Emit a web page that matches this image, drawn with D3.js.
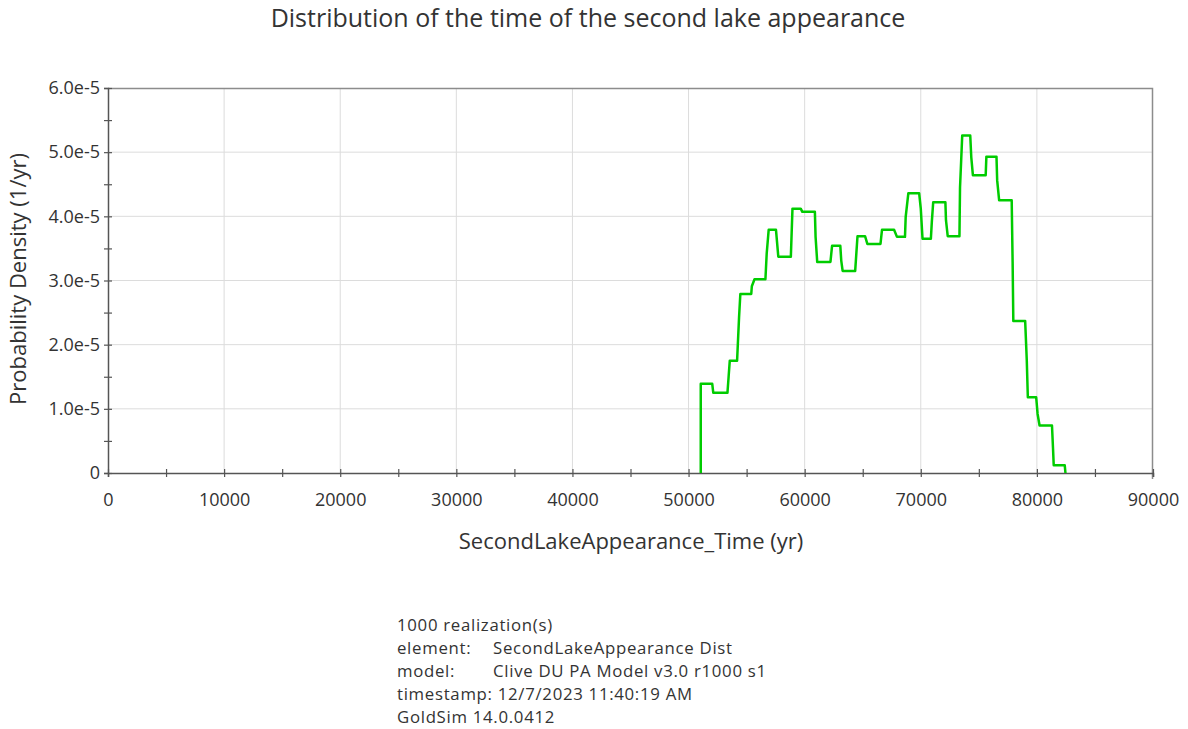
<!DOCTYPE html>
<html>
<head>
<meta charset="utf-8">
<script src="https://cdn.jsdelivr.net/npm/d3@7"></script>
<style>
  body { margin: 0; background: #fff; }
  text { font-family: "Open Sans", "Noto Sans", sans-serif; }
</style>
</head>
<body>
<div id="chart"></div>
<script>
// step points of the density curve (time in yr, density in 1/yr)
var timeYr = [51050, 51050, 52040, 52130, 53350, 53450, 53550, 54180, 54350, 54460,
    55400, 55450, 55680, 56620, 56730, 56900, 57530, 57610, 57730, 58810,
    58950, 59660, 59800, 60880, 60940, 61080, 62220, 62360, 63070, 63150,
    63270, 64350, 64450, 64550, 65200, 65400, 66530, 66660, 67700, 67950,
    68640, 68700, 68930, 69860, 70000, 70150, 70870, 70950, 71070, 72120,
    72170, 72320, 73330, 73380, 73570, 74260, 74350, 74490, 75590, 75650,
    76520, 76580, 76750, 77830, 77910, 77970, 78990, 79130, 79220, 79940,
    80060, 80230, 81300, 81390, 81450, 82400, 82460];
var density = [0, 1.39e-5, 1.39e-5, 1.25e-5, 1.25e-5, 1.50e-5, 1.75e-5, 1.75e-5, 2.43e-5, 2.79e-5,
    2.79e-5, 2.91e-5, 3.02e-5, 3.02e-5, 3.42e-5, 3.79e-5, 3.79e-5, 3.62e-5, 3.37e-5, 3.37e-5,
    4.12e-5, 4.12e-5, 4.07e-5, 4.07e-5, 3.68e-5, 3.29e-5, 3.29e-5, 3.54e-5, 3.54e-5, 3.31e-5,
    3.15e-5, 3.15e-5, 3.42e-5, 3.69e-5, 3.69e-5, 3.57e-5, 3.57e-5, 3.79e-5, 3.79e-5, 3.68e-5,
    3.68e-5, 3.99e-5, 4.36e-5, 4.36e-5, 4.12e-5, 3.65e-5, 3.65e-5, 3.91e-5, 4.22e-5, 4.22e-5,
    3.94e-5, 3.69e-5, 3.69e-5, 4.45e-5, 5.26e-5, 5.26e-5, 4.92e-5, 4.64e-5, 4.64e-5, 4.93e-5,
    4.93e-5, 4.56e-5, 4.25e-5, 4.25e-5, 3.29e-5, 2.37e-5, 2.37e-5, 1.75e-5, 1.18e-5, 1.18e-5,
    0.92e-5, 0.74e-5, 0.74e-5, 0.38e-5, 0.12e-5, 0.12e-5, 0];

var xTicks = [0, 10000, 20000, 30000, 40000, 50000, 60000, 70000, 80000, 90000];
var xMinorTicks = [5000, 15000, 25000, 35000, 45000, 55000, 65000, 75000, 85000];
var yTicks = [0, 1e-5, 2e-5, 3e-5, 4e-5, 5e-5, 6e-5];
var yTickLabels = ["0", "1.0e-5", "2.0e-5", "3.0e-5", "4.0e-5", "5.0e-5", "6.0e-5"];
var yMinorTicks = [0.5e-5, 1.5e-5, 2.5e-5, 3.5e-5, 4.5e-5, 5.5e-5];

var footerLines = [
    ["1000 realization(s)", ""],
    ["element:", "SecondLakeAppearance Dist"],
    ["model:", "Clive DU PA Model v3.0 r1000 s1"],
    ["timestamp: 12/7/2023 11:40:19 AM", ""],
    ["GoldSim 14.0.0412", ""]
];

var W = 1188, H = 729;
var margin = { top: 88, right: 35, bottom: 256, left: 108 },
    width = W - margin.left - margin.right,
    height = H - margin.top - margin.bottom;

var svg = d3.select("#chart")
    .append("svg")
    .attr("width", W)
    .attr("height", H);

var g = svg.append("g")
    .attr("transform", "translate(" + margin.left + "," + margin.top + ")");

var x = d3.scaleLinear().domain([0, 90000]).range([0, width]);
var y = d3.scaleLinear().domain([0, 6e-5]).range([height, 0]);

// grid lines
g.append("g")
    .selectAll("line.vgrid")
    .data(xTicks.slice(1, -1))
    .enter()
    .append("line")
    .attr("x1", d => x(d)).attr("x2", d => x(d))
    .attr("y1", 0).attr("y2", height)
    .attr("stroke", "#dcdcdc").attr("stroke-width", 1);

g.append("g")
    .selectAll("line.hgrid")
    .data(yTicks.slice(1, -1))
    .enter()
    .append("line")
    .attr("x1", 0).attr("x2", width)
    .attr("y1", d => y(d)).attr("y2", d => y(d))
    .attr("stroke", "#dcdcdc").attr("stroke-width", 1);

// top and right border
g.append("path")
    .attr("d", "M0,0.5H" + (width - 0.5) + "V" + (height + 6))
    .attr("fill", "none")
    .attr("stroke", "#8c8c8c")
    .attr("stroke-width", 1.5);

// x axis
var xAxis = g.append("g")
    .attr("transform", "translate(0," + height + ")")
    .call(d3.axisBottom(x).tickValues(xTicks.concat(xMinorTicks)).tickSize(4)
        .tickFormat(d => xTicks.indexOf(d) >= 0 ? d3.format("d")(d) : ""));
xAxis.select(".domain").attr("stroke", "#555").attr("stroke-width", 1.5);
xAxis.selectAll(".tick line").attr("stroke", "#555").attr("y1", -4).attr("stroke-width", 1.2);
xAxis.selectAll(".tick text")
    .attr("y", 20)
    .attr("fill", "#333")
    .style("font-size", "18px");

// y axis
var yAxis = g.append("g")
    .call(d3.axisLeft(y).tickValues(yTicks.concat(yMinorTicks)).tickSize(4)
        .tickFormat(d => {
            var i = yTicks.indexOf(d);
            return i >= 0 ? yTickLabels[i] : "";
        }));
yAxis.select(".domain").attr("stroke", "#555").attr("stroke-width", 1.5);
yAxis.selectAll(".tick line").attr("stroke", "#555").attr("x1", 4).attr("stroke-width", 1.2);
yAxis.selectAll(".tick text")
    .attr("x", -8)
    .attr("fill", "#333")
    .style("font-size", "18px");

// density curve
var line = d3.line()
    .x((d, i) => x(timeYr[i]))
    .y((d, i) => y(density[i]));

g.append("path")
    .datum(density)
    .attr("fill", "none")
    .attr("stroke", "#00cc00")
    .attr("stroke-width", 2.5)
    .attr("stroke-linejoin", "round")
    .attr("d", line);

// title and axis labels
svg.append("text")
    .attr("x", 588).attr("y", 27)
    .attr("text-anchor", "middle")
    .attr("fill", "#333")
    .style("font-size", "25px")
    .text("Distribution of the time of the second lake appearance");

svg.append("text")
    .attr("x", 631).attr("y", 549)
    .attr("text-anchor", "middle")
    .attr("fill", "#333")
    .style("font-size", "22px")
    .text("SecondLakeAppearance_Time (yr)");

svg.append("text")
    .attr("transform", "translate(26," + 279 + ") rotate(-90)")
    .attr("text-anchor", "middle")
    .attr("fill", "#333")
    .style("font-size", "22px")
    .text("Probability Density (1/yr)");

// footer
var footer = svg.append("g").attr("transform", "translate(397,631)");
footerLines.forEach(function(row, i) {
    var t = footer.append("text")
        .attr("y", i * 23)
        .attr("fill", "#333")
        .style("font-size", "16.8px")
        .style("letter-spacing", "0.7px");
    t.append("tspan").attr("x", 0).text(row[0]);
    if (row[1]) t.append("tspan").attr("x", 96).text(row[1]);
});
</script>
</body>
</html>
